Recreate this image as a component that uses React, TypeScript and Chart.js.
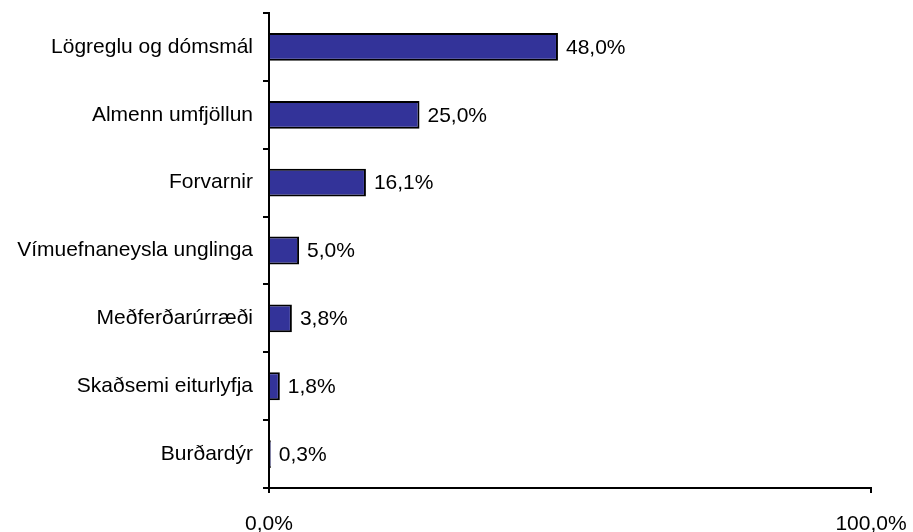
import React, { useEffect, useRef } from "react";
import { Chart, registerables } from "chart.js";

Chart.register(...registerables);

const categories = [
  "Lögreglu og dómsmál",
  "Almenn umfjöllun",
  "Forvarnir",
  "Vímuefnaneysla unglinga",
  "Meðferðarúrræði",
  "Skaðsemi eiturlyfja",
  "Burðardýr",
];
const values = [48.0, 25.0, 16.1, 5.0, 3.8, 1.8, 0.3];
const xTicks = [0, 100];

const fmt = (v: number) => v.toFixed(1).replace(".", ",") + "%";
const FONT = "Liberation Sans, Arial, sans-serif";

const valueLabels = {
  id: "valueLabels",
  afterDatasetsDraw(chart: any) {
    const ctx = chart.ctx;
    const meta = chart.getDatasetMeta(0);
    ctx.save();
    ctx.font = `21px ${FONT}`;
    ctx.fillStyle = "#000";
    ctx.textAlign = "left";
    ctx.textBaseline = "middle";
    meta.data.forEach((el: any, i: number) => {
      ctx.fillText(fmt(values[i]), el.x + 8, el.y + 1);
    });
    ctx.restore();
  },
};

export default function App() {
  const ref = useRef<HTMLCanvasElement>(null);
  useEffect(() => {
    const chart = new Chart(ref.current!, {
      type: "bar",
      data: {
        labels: categories,
        datasets: [
          {
            data: values,
            backgroundColor: "#333399",
            borderColor: "#000",
            borderWidth: 2,
            barPercentage: 0.41,
            categoryPercentage: 1,
          },
        ],
      },
      options: {
        indexAxis: "y",
        responsive: false,
        animation: false,
        layout: { padding: { top: 13, right: 42, left: 0, bottom: 0 } },
        plugins: { legend: { display: false }, tooltip: { enabled: false } },
        scales: {
          x: {
            min: 0,
            max: 100,
            afterBuildTicks: (axis: any) => {
              axis.ticks = xTicks.map((v) => ({ value: v }));
            },
            afterFit: (axis: any) => {
              axis.height = 44;
              axis.paddingLeft = 0;
              axis.paddingRight = 0;
            },
            grid: { drawOnChartArea: false, tickLength: 5, color: "#000", lineWidth: 2 },
            border: { color: "#000", width: 2 },
            ticks: {
              color: "#000",
              font: { family: FONT, size: 21 },
              padding: 19,
              maxRotation: 0,
              callback: (v: any) => fmt(Number(v)),
            },
          },
          y: {
            afterFit: (axis: any) => {
              axis.width = 269;
              axis.paddingTop = 0;
              axis.paddingBottom = 0;
            },
            grid: { drawOnChartArea: false, tickLength: 6, color: "#000", lineWidth: 2, offset: true },
            border: { color: "#000", width: 2 },
            ticks: {
              color: "#000",
              font: { family: FONT, size: 21 },
              padding: 10,
            },
          },
        },
      },
      plugins: [valueLabels],
    });
    return () => chart.destroy();
  }, []);
  return (
    <div style={{ position: "fixed", top: 0, left: 0, width: 913, height: 532, background: "#fff" }}>
      <canvas ref={ref} width={913} height={532} />
    </div>
  );
}
